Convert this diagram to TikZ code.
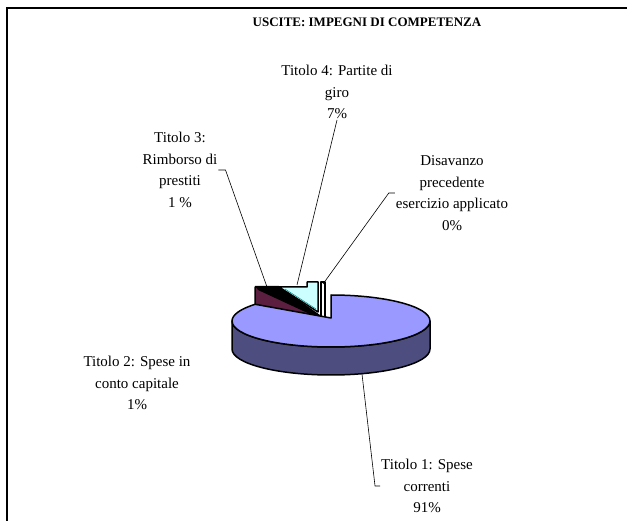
\documentclass[tikz,border=0pt]{standalone}
\usepackage{fontspec}
\setmainfont{Liberation Serif}
\usepackage{tikz}
\usetikzlibrary{positioning,calc}

\definecolor{sliceone}{HTML}{9999FF}
\definecolor{sliceoneside}{HTML}{4D4D80}
\definecolor{slicetwo}{HTML}{5C1F40}
\definecolor{slicefour}{HTML}{CCFFFF}

\begin{document}
\begin{tikzpicture}[x=1pt, y=1pt,
  lbl/.style={align=center, font=\fontsize{15}{21.5}\selectfont, inner sep=1pt},
  leader/.style={draw, line width=0.6pt},
  slice/.style={draw=black, line width=1.5pt, line join=round}]
  \useasboundingbox (0,0) rectangle (627,-521);

  % Frame
  \draw[line width=1.2pt] (627,-8) -- (7,-8) -- (7,-521);

  % Title
  \node[font=\fontsize{13}{15}\selectfont\bfseries] (title) at (367,-22) {USCITE: IMPEGNI DI COMPETENZA};

  % Small slices (behind the big one)
  \filldraw[slice, fill=slicetwo] (255,-287) -- (270,-287) -- (318,-315) -- (255,-311) -- cycle;
  \fill[black] (255,-286) -- (279,-286) -- (320,-315) -- (314,-316) -- (258,-290) -- cycle;
  \filldraw[slice, fill=slicefour] (279,-287) -- (307,-287) -- (307,-282) -- (318,-282) -- (318,-312) -- cycle;
  \draw[teal, line width=0.5pt] (285,-289) -- (316,-309);
  \filldraw[slice, fill=white] (321,-282) rectangle (325,-318);

  % Big slice: side wall and top
  \filldraw[slice, fill=sliceoneside] (232,-321)
    arc[start angle=180, end angle=360, x radius=99, y radius=26] -- ++(0,-28)
    arc[start angle=360, end angle=180, x radius=99, y radius=26] -- cycle;
  \filldraw[slice, fill=sliceone] (331,-318) -- (331,-295)
    arc[start angle=90, end angle=-220, x radius=99, y radius=26] -- cycle;

  % Labels
  \node[lbl] (lbl4) at (337,-92) {Titolo 4: Partite di\\giro\\7\%};
  \node[lbl] (lbl5) at (452,-193) {Disavanzo\\precedente\\esercizio applicato\\0\%};
  \node[lbl] (lbl3) at (180,-170) {Titolo 3:\\Rimborso di\\prestiti\\1 \%};
  \node[lbl] (lbl2) at (137,-383) {Titolo 2: Spese in\\conto capitale\\1\%};
  \node[lbl] (lbl1) at (427,-486) {Titolo 1: Spese\\correnti\\91\%};

  % Leader lines
  \coordinate (s4) at (297,-285);
  \coordinate (s5) at (323,-284);
  \coordinate (s3) at (267,-287);
  \coordinate (s1) at (362,-374);
  \draw[leader] (lbl4.south) -- (s4);
  \draw[leader] (lbl5.west) -- ++(-6,0) -- (s5);
  \draw[leader] (lbl3.east) -- ++(7,0) -- (s3);
  \draw[leader] (lbl1.west) -- ++(-5,0) -- (s1);
\end{tikzpicture}
\end{document}
